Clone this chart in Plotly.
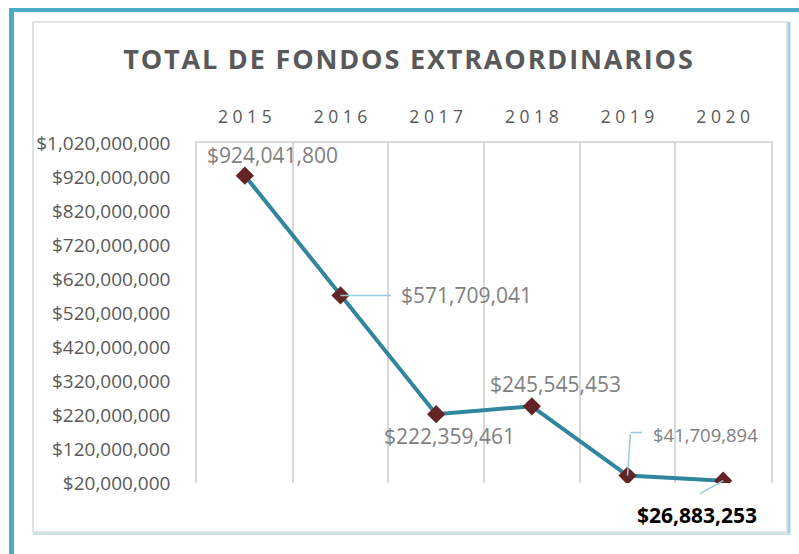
import plotly.graph_objects as go

# ---- data ----
years = ["2015", "2016", "2017", "2018", "2019", "2020"]
fondos = [924041800, 571709041, 222359461, 245545453, 41709894, 26883253]
y_ticks = [20000000, 120000000, 220000000, 320000000, 420000000, 520000000,
           620000000, 720000000, 820000000, 920000000, 1020000000]
title_text = "TOTAL DE FONDOS EXTRAORDINARIOS"

# ---- geometry helpers (layout only) ----
W, H = 799, 554
ML, MR, MT, MB = 197, 28, 143, 71
PW, PH = W - ML - MR, H - MT - MB


def xp(px):
    return (px - ML) / PW


def yp(py):
    return (H - MB - py) / PH


FONT = "Open Sans"
GRID = "#D9D9D9"
LABEL_GRAY = "#7F7F7F"
LEADER = "#93CDDD"


def spaced(text, gap):
    sp = '<span style="font-size:%spx">\u00a0</span>' % gap
    return sp.join(text)


def money(v):
    return "${:,}".format(v)


fig = go.Figure()
fig.add_trace(go.Scatter(
    x=years, y=fondos, mode="lines+markers",
    line=dict(color="#31859C", width=4),
    marker=dict(symbol="diamond", size=14, color="#632523"),
    hoverinfo="skip", showlegend=False,
))

# data labels: (index, xshift, yshift, size, color, bold)
label_cfg = [
    (0, 28, 21, 21, LABEL_GRAY, False),
    (1, 125.5, 0, 21, LABEL_GRAY, False),
    (2, 13.5, -22, 21, LABEL_GRAY, False),
    (3, 24, 22, 21, LABEL_GRAY, False),
    (4, 77.5, 41, 18.5, LABEL_GRAY, False),
    (5, -26, -34, 21, "#000000", True),
]
annotations = []
for i, xs, ys, sz, col, bold in label_cfg:
    txt = money(fondos[i])
    if bold:
        txt = "<b>%s</b>" % txt
    annotations.append(dict(
        x=i, y=fondos[i], xref="x", yref="y", text=txt,
        showarrow=False, xshift=xs, yshift=ys,
        font=dict(family=FONT, size=sz, color=col),
    ))

# leader lines: (index, xshift, yshift, ax, ay)
leaders = [
    (1, 0, 0, 52, 0),
    (4, 0, 0, 3, -43),
    (4, 3, 43, 13, 0),
    (5, 0, 0, -25, 14),
]
for i, xs, ys, ax, ay in leaders:
    annotations.append(dict(
        x=i, y=fondos[i], xref="x", yref="y", text="",
        showarrow=True, arrowhead=0, arrowwidth=1.5, arrowcolor=LEADER,
        ax=ax, ay=ay, xshift=xs, yshift=ys, standoff=0, startstandoff=0,
    ))

shapes = [
    # outer teal frame
    dict(type="line", xref="paper", yref="paper", x0=xp(11.5), x1=xp(11.5),
         y0=yp(8), y1=yp(560), line=dict(color="#4BACC6", width=5)),
    dict(type="line", xref="paper", yref="paper", x0=xp(9), x1=xp(805),
         y0=yp(10), y1=yp(10), line=dict(color="#4BACC6", width=4)),
    # inner chart box
    dict(type="rect", xref="paper", yref="paper", x0=xp(33), x1=xp(787),
         y0=yp(532), y1=yp(22), line=dict(color=GRID, width=1.5)),
    dict(type="line", xref="paper", yref="paper", x0=xp(789), x1=xp(789),
         y0=yp(22), y1=yp(535), line=dict(color="#A5D5E2", width=3)),
    dict(type="line", xref="paper", yref="paper", x0=xp(33), x1=xp(790),
         y0=yp(534), y1=yp(534), line=dict(color="#C5E3EC", width=2)),
]

fig.update_layout(
    width=W, height=H,
    margin=dict(l=ML, r=MR, t=MT, b=MB, pad=0),
    paper_bgcolor="white", plot_bgcolor="white",
    font=dict(family=FONT, color="#595959"),
    title=dict(
        text=spaced(title_text, 7),
        font=dict(family=FONT, size=27, color="#595959", weight="bold"),
        x=408 / W, xref="container", xanchor="center",
        y=1 - 60 / H, yref="container", yanchor="middle",
    ),
    xaxis=dict(
        type="category", side="top", tickson="boundaries",
        tickvals=years, ticktext=[" ".join(y) for y in years],
        showgrid=True, gridcolor=GRID, gridwidth=1.5,
        showline=True, linecolor=GRID, linewidth=1.5,
        ticks="", ticklabelstandoff=11,
        tickfont=dict(family=FONT, size=17.5, color="#595959"),
        range=[-0.5, 5.5], fixedrange=True,
    ),
    yaxis=dict(
        range=[y_ticks[0], y_ticks[-1]], tickvals=y_ticks,
        ticktext=[money(v) for v in y_ticks],
        showgrid=False, zeroline=False,
        showline=True, mirror=True, linecolor=GRID, linewidth=1.5,
        ticks="", ticklabelstandoff=21,
        tickfont=dict(family=FONT, size=19, color="#595959"),
        fixedrange=True,
    ),
    annotations=annotations,
    shapes=shapes,
)

fig.write_html("out.html",
               config={"displayModeBar": False},
               post_script="document.body.style.margin='0';document.body.style.overflow='hidden';")
